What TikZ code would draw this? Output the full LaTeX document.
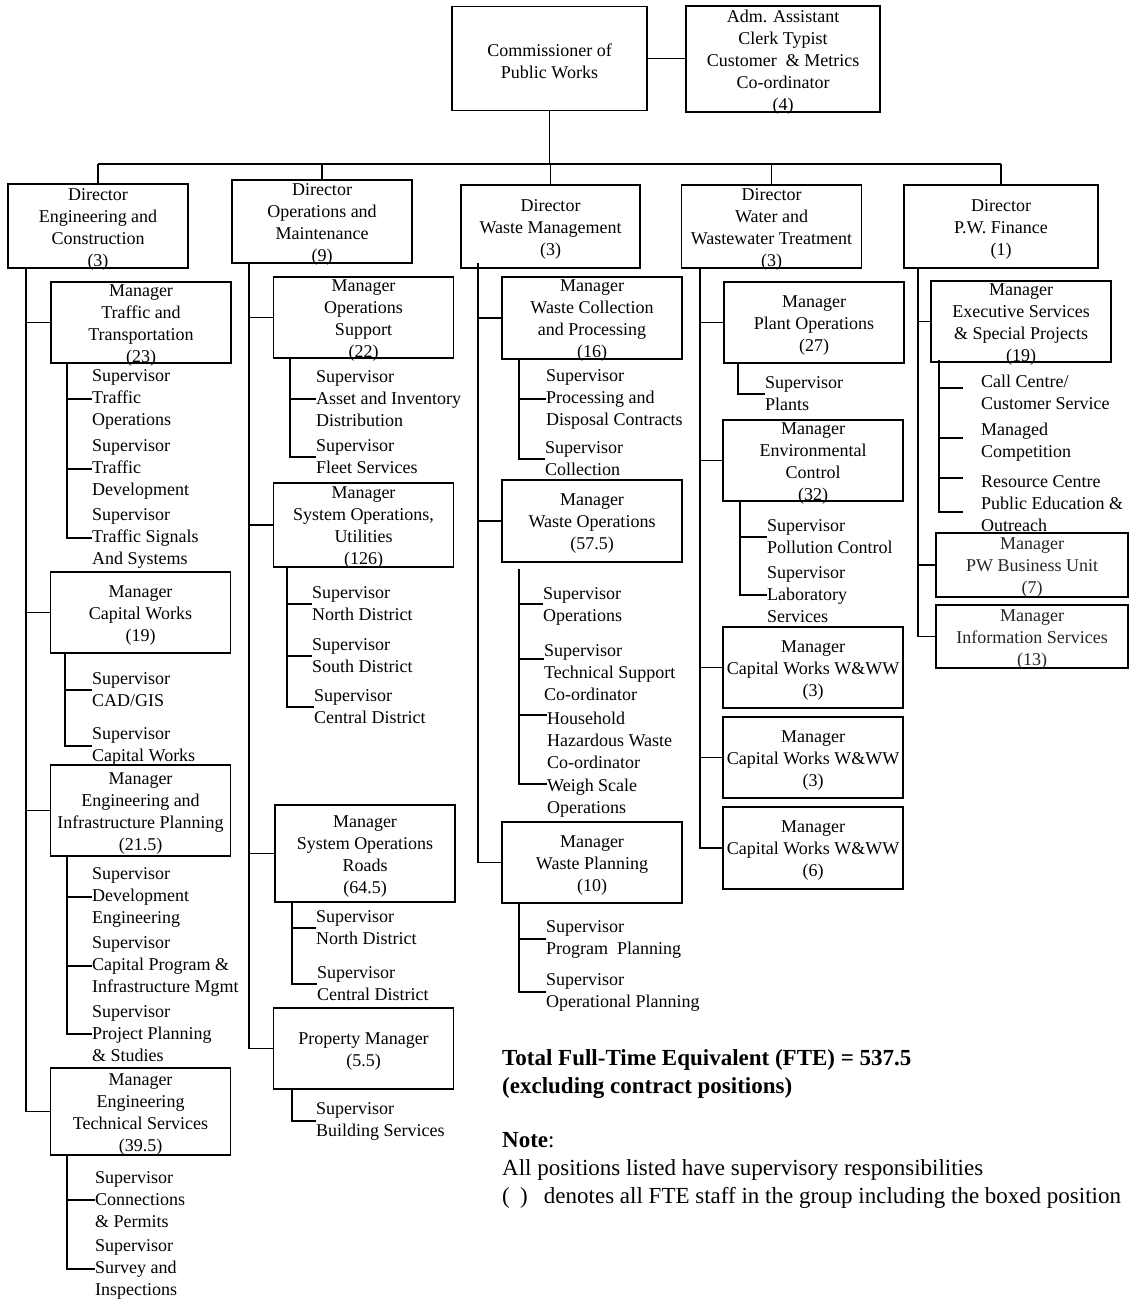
\documentclass[tikz,border=0pt]{standalone}
\usepackage{fontspec}
\setmainfont{Liberation Serif}
\newcommand{\orgbox}[5][box]{%
  \node[#1, sz=#3] (#2) at (#4) {};
  \node[bt#1] (#2t) at ([yshift=-3pt]#2.center) {#5};}
\begin{document}
\begin{tikzpicture}[x=1pt,y=-1pt,
  txt/.style={font=\fontsize{18}{22}\selectfont, inner sep=0pt},
  box/.style={draw, line width=1.8pt, inner sep=0pt},
  lbox/.style={draw, line width=1.2pt, inner sep=0pt},
  btbox/.style={txt, align=center},
  btlbox/.style={txt, align=center, text=black!85},
  sup/.style={txt, anchor=west, align=left},
  note/.style={font=\fontsize{23}{28}\selectfont, inner sep=0pt, anchor=west, align=left},
  con/.style={line width=1.8pt},
  thin/.style={line width=1.3pt},
  sz/.style 2 args={minimum width=#1pt, minimum height=#2pt}
]
\path[use as bounding box, fill=white] (0,0) rectangle (1129,1299);

% ---------- top ----------
\orgbox{comm}{{195}{104}}{549.5,58.5}{Commissioner of\\Public Works}
\orgbox{adm}{{194}{106}}{783,59}{Adm. Assistant\\Clerk Typist\\Customer\ \ \& Metrics\\Co-ordinator\\(4)}

% ---------- directors ----------
\orgbox{dEng}{{180}{84}}{98,226}{Director\\Engineering and\\Construction\\(3)}
\orgbox{dOps}{{180}{83}}{322,221.5}{Director\\Operations and\\Maintenance\\(9)}
\orgbox{dWaste}{{179}{83}}{550.5,226.5}{Director\\Waste Management\\(3)}
\orgbox{dWater}{{180}{83}}{771.5,226.5}{Director\\Water and\\Wastewater Treatment\\(3)}
\orgbox{dFin}{{194}{83}}{1001,226.5}{Director\\P.W. Finance\\(1)}

% ---------- engineering ----------
\orgbox{mTT}{{180}{81}}{141,322.5}{Manager\\Traffic and\\Transportation\\(23)}
\orgbox{mCW}{{180}{81}}{140.5,612.5}{Manager\\Capital Works\\(19)}
\orgbox{mEIP}{{180}{91}}{140.5,810.5}{Manager\\Engineering and\\Infrastructure Planning\\(21.5)}
\orgbox{mETS}{{180}{87}}{140.5,1111.5}{Manager\\Engineering\\Technical Services\\(39.5)}

\node[sup] (sTO) at (92,399) {Supervisor\\Traffic\\Operations};
\node[sup] (sTD) at (92,469) {Supervisor\\Traffic\\Development};
\node[sup] (sTS) at (92,538) {Supervisor\\Traffic Signals\\And Systems};
\node[sup] (sCAD) at (92,690) {Supervisor\\CAD/GIS};
\node[sup] (sCWk) at (92,746) {Supervisor\\Capital Works};
\node[sup] (sDE) at (92,897) {Supervisor\\Development\\Engineering};
\node[sup] (sCPI) at (92,966) {Supervisor\\Capital Program \&\\Infrastructure Mgmt};
\node[sup] (sPPS) at (92,1034) {Supervisor\\Project Planning\\\& Studies};
\node[sup] (sCon) at (95,1200) {Supervisor\\Connections\\\& Permits};
\node[sup] (sSur) at (95,1269) {Supervisor\\Survey and\\Inspections};

% ---------- operations ----------
\orgbox{mOS}{{180}{81}}{363.5,317.5}{Manager\\Operations\\Support\\(22)}
\orgbox{mSOU}{{180}{84}}{363.5,525}{Manager\\System Operations,\\Utilities\\(126)}
\orgbox{mSOR}{{180}{97}}{365,853.5}{Manager\\System Operations\\Roads\\(64.5)}
\orgbox{mProp}{{180}{81}}{363.5,1048.5}{Property Manager\\(5.5)}

\node[sup] (sAID) at (316,399) {Supervisor\\Asset and Inventory\\Distribution};
\node[sup] (sFS) at (316,457) {Supervisor\\Fleet Services};
\node[sup] (sND) at (312,604) {Supervisor\\North District};
\node[sup] (sSD) at (312,656) {Supervisor\\South District};
\node[sup] (sCD) at (314,707) {Supervisor\\Central District};
\node[sup] (sND2) at (316,928) {Supervisor\\North District};
\node[sup] (sCD2) at (317,984) {Supervisor\\Central District};
\node[sup] (sBS) at (316,1121) {Supervisor\\Building Services};

% ---------- waste ----------
\orgbox{mWCP}{{180}{82}}{592,318}{Manager\\Waste Collection\\and Processing\\(16)}
\orgbox{mWO}{{180}{82}}{592,521}{Manager\\Waste Operations\\(57.5)}
\orgbox{mWP}{{180}{81}}{592,862.5}{Manager\\Waste Planning\\(10)}

\node[sup] (sPDC) at (546,399) {Supervisor\\Processing and\\Disposal Contracts};
\node[sup] (sCol) at (545,459) {Supervisor\\Collection};
\node[sup] (sWOp) at (543,606) {Supervisor\\Operations};
\node[sup] (sTSC) at (544,673) {Supervisor\\Technical Support\\Co-ordinator};
\node[sup] (sHHW) at (547,740) {Household\\Hazardous Waste\\Co-ordinator};
\node[sup] (sWSO) at (547,798) {Weigh Scale\\Operations};
\node[sup] (sPrP) at (546,939) {Supervisor\\Program\ \ Planning};
\node[sup] (sOpP) at (546,992) {Supervisor\\Operational Planning};

% ---------- water ----------
\orgbox{mPO}{{180}{81}}{814,322.5}{Manager\\Plant Operations\\(27)}
\orgbox{mEC}{{180}{81}}{813,460.5}{Manager\\Environmental\\Control\\(32)}
\orgbox{mCW1}{{180}{81}}{813,667.5}{Manager\\Capital Works W\&WW\\(3)}
\orgbox{mCW2}{{180}{81}}{813,757.5}{Manager\\Capital Works W\&WW\\(3)}
\orgbox{mCW3}{{180}{82}}{813,848}{Manager\\Capital Works W\&WW\\(6)}

\node[sup] (sPl) at (765,394) {Supervisor\\Plants};
\node[sup] (sPC) at (767,537) {Supervisor\\Pollution Control};
\node[sup] (sLS) at (767,595) {Supervisor\\Laboratory\\Services};

% ---------- finance ----------
\orgbox{mES}{{180}{81}}{1021,321.5}{Manager\\Executive Services\\\& Special Projects\\(19)}
\orgbox[lbox]{mPW}{{192}{64}}{1032,565}{Manager\\PW Business Unit\\(7)}
\orgbox[lbox]{mIS}{{192}{63}}{1032,636.5}{Manager\\Information Services\\(13)}

\node[sup] (fCC) at (981,392) {Call Centre/\\Customer Service};
\node[sup] (fMC) at (981,442) {Managed\\Competition};
\node[sup] (fRC) at (981,504) {Resource Centre\\Public Education \&\\Outreach};
\coordinate (fs1) at (963,388);
\coordinate (fs2) at (963,438);
\coordinate (fs3) at (963,478);
\coordinate (fs4) at (963,512);

% ---------- notes ----------
\node[note, font=\fontsize{23}{28}\selectfont\bfseries] (nTot) at (502,1074) {Total Full-Time Equivalent (FTE) = 537.5\\(excluding contract positions)};
\node[note] (nNote) at (502,1170) {\textbf{Note}:\\All positions listed have supervisory responsibilities\\(\hspace{0.45em})\hspace{0.7em}denotes all FTE staff in the group including the boxed position};

% ---------- connectors: top ----------
\coordinate (top) at (0,164);
\draw[thin] (dEng.north |- top) -- (dFin.north |- top);
\draw[con] (comm.south) -- (comm.south |- top);
\foreach \d in {dEng,dOps,dWaste,dWater,dFin} \draw[thin] (\d.north) -- (\d.north |- top);
\draw[con] (comm.east) -- (comm.east -| adm.west);

% ---------- engineering connectors ----------
\draw[con] (26,0 |- dEng.south) -- (26,0 |- mETS.west) -- (mETS.west);
\foreach \m in {mTT,mCW,mEIP} \draw[con] (26,0 |- \m.west) -- (\m.west);

\draw[con] (67,0 |- mTT.south) -- (67,0 |- sTS.west) -- (sTS.west);
\foreach \s in {sTO,sTD} \draw[con] (67,0 |- \s.west) -- (\s.west);
\draw[con] (65,0 |- mCW.south) -- (65,0 |- sCWk.west) -- (sCWk.west);
\draw[con] (65,0 |- sCAD.west) -- (sCAD.west);
\draw[con] (67,0 |- mEIP.south) -- (67,0 |- sPPS.west) -- (sPPS.west);
\foreach \s in {sDE,sCPI} \draw[con] (67,0 |- \s.west) -- (\s.west);
\draw[con] (67,0 |- mETS.south) -- (67,0 |- sSur.west) -- (sSur.west);
\draw[con] (67,0 |- sCon.west) -- (sCon.west);

% ---------- operations connectors ----------
\draw[con] (249,0 |- dOps.south) -- (249,0 |- mProp.west) -- (mProp.west);
\foreach \m in {mOS,mSOU,mSOR} \draw[con] (249,0 |- \m.west) -- (\m.west);

\draw[con] (290,0 |- mOS.south) -- (290,0 |- sFS.west) -- (sFS.west);
\draw[con] (290,0 |- sAID.west) -- (sAID.west);
\draw[con] (287,0 |- mSOU.south) -- (287,0 |- sCD.west) -- (sCD.west);
\foreach \s in {sND,sSD} \draw[con] (287,0 |- \s.west) -- (\s.west);
\draw[con] (292,0 |- mSOR.south) -- (292,0 |- sCD2.west) -- (sCD2.west);
\draw[con] (292,0 |- sND2.west) -- (sND2.west);
\draw[con] (292,0 |- mProp.south) -- (292,0 |- sBS.west) -- (sBS.west);

% ---------- waste connectors ----------
\draw[con] (478,0 |- dWaste.south) ++(0,-6) -- (478,0 |- mWP.west) -- (mWP.west);
\foreach \m in {mWCP,mWO} \draw[con] (478,0 |- \m.west) -- (\m.west);

\draw[con] (519,0 |- mWCP.south) -- (519,0 |- sCol.west) -- (sCol.west);
\draw[con] (519,0 |- sPDC.west) -- (sPDC.west);
\draw[con] (519,0 |- mWO.south) ++(0,6) -- (519,784) -- (sWSO.west |- 0,784);
\draw[con] (519,604) -- (sWOp.west |- 0,604);
\draw[con] (519,659) -- (sTSC.west |- 0,659);
\draw[con] (519,715) -- (sHHW.west |- 0,715);
\draw[con] (519,0 |- mWP.south) -- (519,0 |- sOpP.west) -- (sOpP.west);
\draw[con] (519,0 |- sPrP.west) -- (sPrP.west);

% ---------- water connectors ----------
\draw[con] (700,0 |- dWater.south) -- (700,0 |- mCW3.west) -- (mCW3.west);
\foreach \m in {mPO,mEC,mCW1,mCW2} \draw[con] (700,0 |- \m.west) -- (\m.west);

\draw[con] (738,0 |- mPO.south) -- (738,0 |- sPl.west) -- (sPl.west);
\draw[con] (740,0 |- mEC.south) -- (740,0 |- sLS.west) -- (sLS.west);
\draw[con] (740,0 |- sPC.west) -- (sPC.west);

% ---------- finance connectors ----------
\draw[thin] (918,0 |- dFin.south) -- (918,0 |- mIS.west) -- (mIS.west);
\foreach \m in {mES,mPW} \draw[thin] (918,0 |- \m.west) -- (\m.west);

\draw[thin] (939,0 |- mES.south) ++(0,-3) -- (939,0 |- fs4) -- (fs4);
\foreach \f in {fs1,fs2,fs3} \draw[thin] (939,0 |- \f) -- (\f);
\end{tikzpicture}
\end{document}
